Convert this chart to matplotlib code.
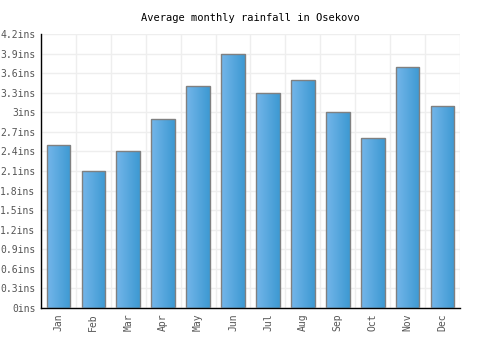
import matplotlib
matplotlib.use("Agg")
import matplotlib.pyplot as plt
import numpy as np
from matplotlib.colors import LinearSegmentedColormap
from matplotlib.ticker import FuncFormatter, MultipleLocator

months = ["Jan", "Feb", "Mar", "Apr", "May", "Jun", "Jul", "Aug", "Sep", "Oct", "Nov", "Dec"]
rain = [2.5, 2.1, 2.4, 2.9, 3.4, 3.9, 3.3, 3.5, 3.0, 2.6, 3.7, 3.1]
yticks = [0, 0.3, 0.6, 0.9, 1.2, 1.5, 1.8, 2.1, 2.4, 2.7, 3.0, 3.3, 3.6, 3.9, 4.2]

plt.rcParams['font.family'] = ['DejaVu Sans Mono']

fig = plt.figure(figsize=(5, 3.5), dpi=100)
ax = fig.add_axes([0.082, 0.12, 0.838, 0.783])

x = np.arange(len(months))
bars = ax.bar(x, rain, width=0.68, facecolor='none', edgecolor='#808080', linewidth=1, zorder=3)

cmap = LinearSegmentedColormap.from_list('g', ['#74b6ea', '#3d99d2'])
grad = np.linspace(0, 1, 64).reshape(1, -1)
for b in bars:
    x0, w, h = b.get_x(), b.get_width(), b.get_height()
    im = ax.imshow(grad, cmap=cmap, extent=[x0, x0 + w, 0, h], aspect='auto', zorder=2,
                   interpolation='bicubic')
    im.set_clip_path(b)

ax.set_xlim(-0.5, len(months) - 0.5)
ax.set_ylim(0, 4.2)
ax.set_yticks(yticks)
ax.yaxis.set_major_formatter(FuncFormatter(lambda v, p: f"{v:g}ins"))
ax.set_xticks(x)
ax.set_xticklabels(months, rotation=90)
ax.xaxis.set_minor_locator(MultipleLocator(1, offset=0.5))
ax.grid(True, which='minor', axis='x', color='#eeeeee', linewidth=1, zorder=0)
ax.grid(True, which='major', axis='y', color='#eeeeee', linewidth=1, zorder=0)
ax.tick_params(axis='both', which='both', length=0, labelsize=7, colors='#555555', pad=4)
for s in ['top', 'right']:
    ax.spines[s].set_visible(False)
for s in ['left', 'bottom']:
    ax.spines[s].set_color('black')
    ax.spines[s].set_linewidth(1)
ax.set_axisbelow(True)
ax.set_title("Average monthly rainfall in Osekovo", fontsize=7.5, pad=9)

fig.savefig("out.png", dpi=100)
